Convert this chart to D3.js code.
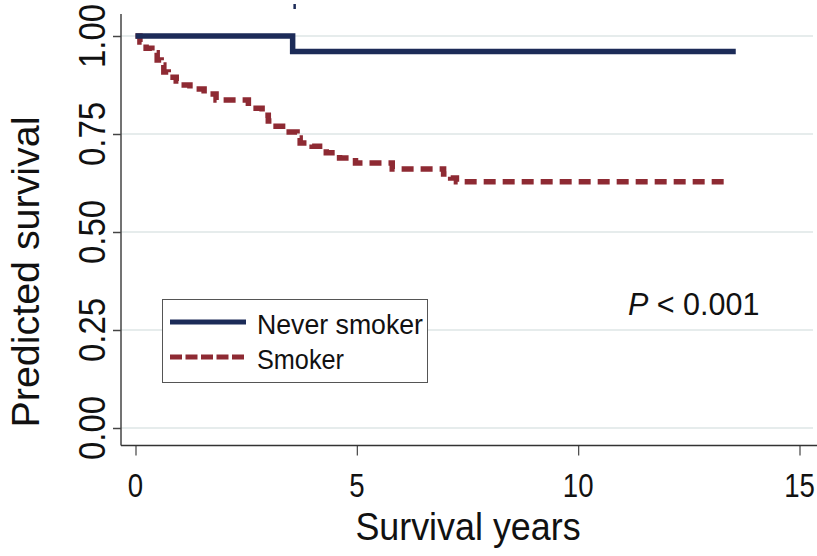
<!DOCTYPE html>
<html>
<head>
<meta charset="utf-8">
<script src="https://cdn.jsdelivr.net/npm/d3@7"></script>
<style>
  html, body { margin: 0; padding: 0; background: #ffffff; }
  svg { display: block; font-family: "Liberation Sans", Arial, Helvetica, sans-serif; }
</style>
</head>
<body>
<svg id="chart" width="817" height="556"></svg>
<script>
// ---- Data ----
const neverTimes = [0, 3.55, 13.56];
const neverSurv  = [1.0, 0.9605, 0.9605];

const smokerTimes = [0, 0.10, 0.24, 0.37, 0.49, 0.58, 0.64, 0.74, 0.92, 1.03, 1.23, 1.55, 1.82,
                     2.55, 2.86, 3.00, 3.09, 3.40, 3.65, 3.72, 3.99, 4.31, 4.61, 4.97, 5.80,
                     6.96, 7.12, 7.25, 13.38];
const smokerSurv  = [1.0, 0.985, 0.969, 0.957, 0.939, 0.926, 0.908, 0.895, 0.885, 0.875, 0.865, 0.852, 0.837,
                     0.816, 0.798, 0.783, 0.770, 0.755, 0.740, 0.727, 0.719, 0.702, 0.689, 0.676, 0.661,
                     0.648, 0.638, 0.628, 0.628];

const censorTimes = [3.55];

const xTicks = [0, 5, 10, 15];
const yTicks = [0, 0.25, 0.5, 0.75, 1.0];
const seriesNames = ["Never smoker", "Smoker"];
const pText = "< 0.001";

// ---- Layout ----
const svg = d3.select("#chart");
const W = 817, H = 556;
const x = d3.scaleLinear().domain([0, 15]).range([135.5, 799.5]);
const y = d3.scaleLinear().domain([0, 1]).range([428, 36]);
const axisX = 121, axisY = 445.5;

const navy = "#1c2b58";
const red = "#8e2a33";

// gridlines
svg.append("g").selectAll("line").data(yTicks).join("line")
  .attr("x1", axisX).attr("x2", 813)
  .attr("y1", d => y(d)).attr("y2", d => y(d))
  .attr("stroke", "#e6ecec").attr("stroke-width", 2);

// Y axis
const yAxis = svg.append("g").attr("transform", `translate(${axisX},0)`)
  .call(d3.axisLeft(y).tickValues(yTicks).tickSize(8).tickFormat(d3.format(".2f")));
yAxis.select(".domain").remove();
yAxis.selectAll(".tick line").attr("stroke", "#444").attr("stroke-width", 1.5);
yAxis.selectAll(".tick text").remove();
svg.append("line").attr("x1", axisX).attr("x2", axisX).attr("y1", 14).attr("y2", axisY)
  .attr("stroke", "#444").attr("stroke-width", 1.5);

svg.append("g").selectAll("text").data(yTicks).join("text")
  .attr("transform", d => `translate(105,${y(d)}) rotate(-90) scale(1,1.12)`)
  .attr("text-anchor", "middle")
  .attr("font-size", 33)
  .attr("fill", "#111")
  .text(d => d3.format(".2f")(d));

// X axis
const xAxis = svg.append("g").attr("transform", `translate(0,${axisY})`)
  .call(d3.axisBottom(x).tickValues(xTicks).tickSize(10).tickFormat(d3.format("d")));
xAxis.select(".domain").remove();
xAxis.selectAll(".tick line").attr("stroke", "#444").attr("stroke-width", 1.2);
xAxis.selectAll(".tick text").remove();
svg.append("line").attr("x1", axisX).attr("x2", W).attr("y1", axisY).attr("y2", axisY)
  .attr("stroke", "#333").attr("stroke-width", 1.5);

svg.append("g").selectAll("text").data(xTicks).join("text")
  .attr("transform", d => `translate(${x(d)},497) scale(0.92,1.1)`)
  .attr("text-anchor", "middle")
  .attr("font-size", 30)
  .attr("fill", "#111")
  .text(d => d3.format("d")(d));

// Axis titles
svg.append("text")
  .attr("transform", "translate(468,540) scale(0.97,1.05)")
  .attr("text-anchor", "middle")
  .attr("font-size", 37)
  .attr("fill", "#111")
  .text("Survival years");

svg.append("text")
  .attr("transform", "translate(39,272) rotate(-90)")
  .attr("text-anchor", "middle")
  .attr("font-size", 38)
  .attr("textLength", 311)
  .attr("lengthAdjust", "spacingAndGlyphs")
  .attr("fill", "#111")
  .text("Predicted survival");

// Curves
const line = d3.line().x(d => x(d[0])).y(d => y(d[1])).curve(d3.curveStepAfter);
const neverData = neverTimes.map((t, i) => [t, neverSurv[i]]);
const smokerData = smokerTimes.map((t, i) => [t, smokerSurv[i]]);

svg.append("path").datum(smokerData)
  .attr("d", line)
  .attr("fill", "none")
  .attr("stroke", red)
  .attr("stroke-width", 5.5)
  .attr("stroke-dasharray", "12,7");

svg.append("path").datum(neverData)
  .attr("d", line)
  .attr("fill", "none")
  .attr("stroke", navy)
  .attr("stroke-width", 5.5);

// small censor mark at top
svg.append("g").selectAll("line").data(censorTimes).join("line")
  .attr("x1", d => x(d) + 2).attr("x2", d => x(d) + 2)
  .attr("y1", 4).attr("y2", 9)
  .attr("stroke", navy).attr("stroke-width", 2.5);

// Legend
const lg = svg.append("g");
lg.append("rect").attr("x", 162.5).attr("y", 299.5).attr("width", 265).attr("height", 83)
  .attr("fill", "#fff").attr("stroke", "#555").attr("stroke-width", 1);
const legendRows = [
  {name: seriesNames[0], color: navy, dash: null, ly: 322},
  {name: seriesNames[1], color: red, dash: "12,3.5", ly: 357}
];
legendRows.forEach(r => {
  lg.append("line").attr("x1", 170).attr("x2", 246).attr("y1", r.ly).attr("y2", r.ly)
    .attr("stroke", r.color).attr("stroke-width", 5)
    .attr("stroke-dasharray", r.dash);
  lg.append("text").attr("x", 257).attr("y", r.ly + 12)
    .attr("font-size", 27).attr("textLength", r.name === seriesNames[0] ? 166 : 87)
    .attr("lengthAdjust", "spacingAndGlyphs")
    .attr("fill", "#111").text(r.name);
});

// P value annotation
const pt = svg.append("text").attr("x", 628).attr("y", 315).attr("font-size", 30.5).attr("fill", "#111");
pt.append("tspan").attr("font-style", "italic").text("P");
pt.append("tspan").text(" " + pText);
</script>
</body>
</html>
